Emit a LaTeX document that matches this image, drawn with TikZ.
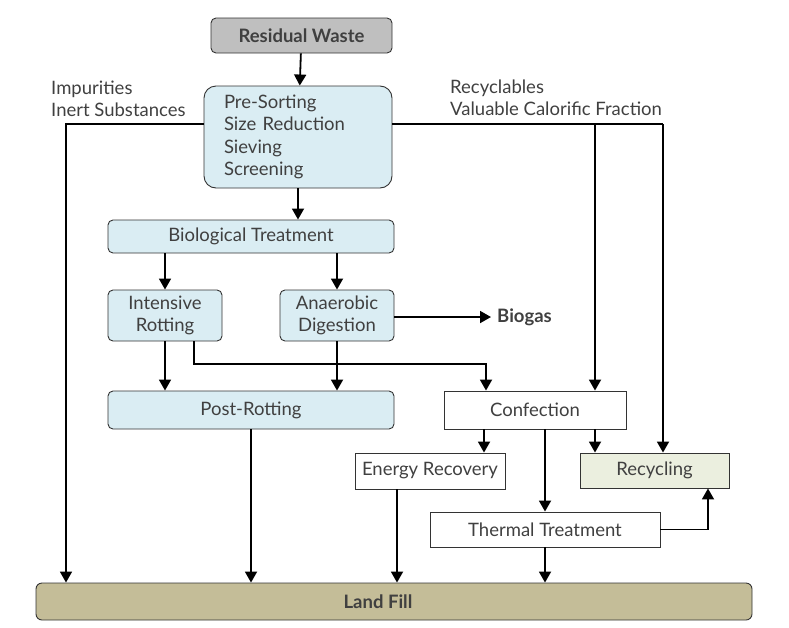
\documentclass[tikz,border=0pt]{standalone}
\usepackage{fontspec}
\setmainfont{Lato}
\usepackage{xcolor}
\usetikzlibrary{arrows.meta}
\definecolor{txt}{HTML}{404040}
\definecolor{wastegray}{HTML}{BFBFBF}
\definecolor{lightblue}{HTML}{DAEDF3}
\definecolor{lightgreen}{HTML}{EBEFDF}
\definecolor{tan}{HTML}{C4BD98}
\tikzset{
    box/.style={draw=black!80, line width=0.9pt, text=txt, inner sep=0pt, align=center},
    bluebox/.style={box, fill=lightblue, rounded corners=5pt},
    flow/.style={line width=1.8pt, -{Triangle[length=11pt,width=12pt]}},
    plain/.style={line width=1.8pt}
}

\begin{document}
\begin{tikzpicture}[x=1pt,y=-1pt,font=\fontsize{18.5}{22.5}\selectfont]
\useasboundingbox (0,0) rectangle (789,627);
\node[box, fill=wastegray, rounded corners=5pt, minimum width=181, minimum height=35, font=\fontsize{18.5}{22.5}\selectfont\bfseries] (waste) at (301.5,35.5) {Residual Waste};
\node[bluebox, rounded corners=12pt, minimum width=188, minimum height=102, text width=148, inner xsep=20pt, align=left] (presort) at (298,137) {Pre-Sorting\\Size Reduction\\Sieving\\Screening};
\node[bluebox, minimum width=286, minimum height=33] (bio) at (251,236.5) {Biological Treatment};
\node[bluebox, minimum width=114, minimum height=51] (intensive) at (165,315.5) {Intensive\\Rotting};
\node[bluebox, minimum width=114, minimum height=51] (anaerobic) at (337,315.5) {Anaerobic\\Digestion};
\node[bluebox, minimum width=286, minimum height=38] (post) at (251,410) {Post-Rotting};
\node[box, fill=white, minimum width=182, minimum height=38] (confection) at (535,410) {Confection};
\node[box, fill=white, minimum width=150, minimum height=36] (energy) at (430,471) {Energy Recovery};
\node[box, fill=lightgreen, minimum width=149, minimum height=35] (recycling) at (654.5,470.5) {Recycling};
\node[box, fill=white, minimum width=230, minimum height=35] (thermal) at (545,529.5) {Thermal Treatment};
\node[box, fill=tan, rounded corners=6pt, minimum width=716, minimum height=37] (landfill) at (394,601.5) {};
\node[text=txt, font=\fontsize{18.5}{22.5}\selectfont\bfseries] (landfilltext) at (378,601.5) {Land Fill};
\node[text=txt, font=\fontsize{18.5}{22.5}\selectfont\bfseries, anchor=west, inner sep=0pt] (biogas) at (497,317) {Biogas};
\node[text=txt, align=left, anchor=west, inner sep=0pt] (impurities) at (51,99) {Impurities\\Inert Substances};
\node[text=txt, align=left, anchor=west, inner sep=0pt] (recyclables) at (450,98) {Recyclables\\Valuable Calorific Fraction};
% branch points
\coordinate (leftcorner) at (66,124);
\coordinate (split) at (595,124);
\coordinate (rightcorner) at (663,124);
\coordinate (rotbend) at (194,364);
% top part
\draw[flow] (waste) -- (presort);
\draw[flow] (presort.west |- leftcorner) -- (leftcorner) -- (leftcorner |- landfill.north);
\draw[plain] (presort.east |- rightcorner) -- (rightcorner);
\draw[flow] (rightcorner) -- (rightcorner |- recycling.north);
\draw[flow] (split) -- (split |- confection.north);
\draw[flow] (presort.south) -- (presort.south |- bio.north);
% biological part
\draw[flow] (bio.south -| intensive) -- (intensive);
\draw[flow] (bio.south -| anaerobic) -- (anaerobic);
\draw[flow] (anaerobic.east |- biogas) -- ([xshift=-6pt]biogas.west);
\draw[flow] (intensive.south) -- (intensive.south |- post.north);
\draw[flow] (anaerobic.south) -- (anaerobic.south |- post.north);
\draw[flow] (rotbend |- intensive.south) -- (rotbend) -| ([xshift=-49pt]confection.north);
\draw[flow] (post.south) -- (post.south |- landfill.north);
% confection part
\draw[flow] ([xshift=-51pt]confection.south) -- ([xshift=-51pt]confection.south |- energy.north);
\draw[flow] ([xshift=10pt]confection.south) -- ([xshift=10pt]confection.south |- thermal.north);
\draw[flow] (split |- confection.south) -- (split |- recycling.north);
\draw[flow] ([xshift=-33pt]energy.south) -- ([xshift=-33pt]energy.south |- landfill.north);
\draw[flow] (thermal.south) -- (thermal.south |- landfill.north);
\draw[flow] (thermal.east) -| ([xshift=53.5pt]recycling.south);
\end{tikzpicture}
\end{document}
